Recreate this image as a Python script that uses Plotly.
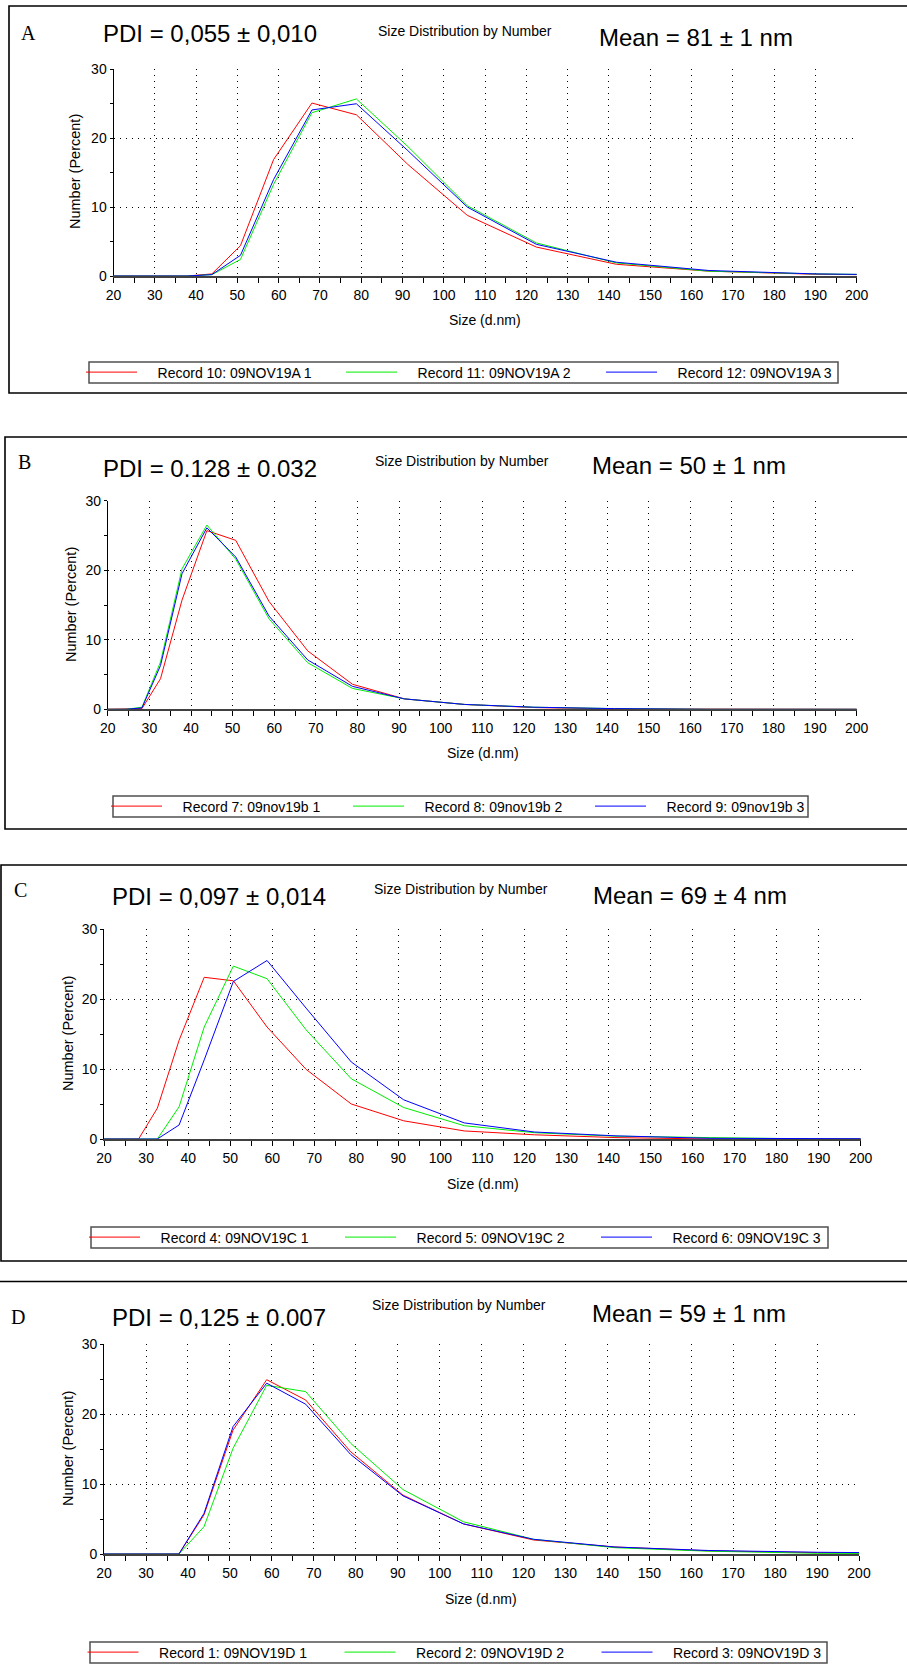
import plotly.graph_objects as go

W, H = 907, 1669

# ---------------- data ----------------
SIZES = [18.17, 21.04, 24.36, 28.21, 32.67, 37.84, 43.82, 50.75, 58.77,
         68.06, 78.82, 91.28, 105.7, 122.4, 141.8, 164.2, 190.1, 220.2]

A_REC10 = [0, 0, 0, 0, 0, 0, 0.3, 4.4, 16.9, 25.1, 23.4, 16.2, 8.8, 4.2, 1.7, 0.7, 0.25, 0.1]
A_REC11 = [0, 0, 0, 0, 0, 0, 0.2, 2.4, 13.3, 23.7, 25.7, 18.8, 10.2, 4.8, 1.9, 0.7, 0.3, 0.1]
A_REC12 = [0, 0, 0, 0, 0, 0, 0.2, 3.0, 14.0, 24.1, 25.0, 18.2, 10.0, 4.6, 2.0, 0.8, 0.3, 0.1]

B_REC7 = [0, 0, 0, 0.1, 4.4, 15.7, 25.7, 24.3, 15.5, 8.4, 3.6, 1.5, 0.7, 0.25, 0.05, 0, 0, 0]
B_REC8 = [0, 0, 0, 0.3, 6.8, 20.2, 26.5, 21.6, 13.0, 6.7, 3.0, 1.5, 0.7, 0.3, 0.1, 0, 0, 0]
B_REC9 = [0, 0, 0, 0.2, 6.3, 19.5, 26.1, 21.9, 13.4, 7.1, 3.3, 1.5, 0.7, 0.3, 0.1, 0, 0, 0]

C_REC4 = [0, 0, 0, 0, 4.4, 14.1, 23.1, 22.6, 16.0, 9.95, 5.0, 2.6, 1.15, 0.6, 0.2, 0, 0, 0]
C_REC5 = [0, 0, 0, 0, 0, 4.6, 16.0, 24.7, 22.9, 15.6, 8.6, 4.5, 1.9, 0.9, 0.4, 0.2, 0, 0]
C_REC6 = [0, 0, 0, 0, 0, 2.0, 11.3, 22.5, 25.5, 18.7, 11.0, 5.6, 2.3, 1.0, 0.45, 0.1, 0, 0]

D_REC1 = [0, 0, 0, 0, 0, 0, 5.6, 17.7, 24.9, 22.0, 14.6, 8.4, 4.3, 2.0, 1.0, 0.45, 0.2, 0.1]
D_REC2 = [0, 0, 0, 0, 0, 0, 3.9, 15.1, 24.1, 23.2, 15.8, 9.2, 4.6, 2.1, 0.9, 0.4, 0.1, 0.05]
D_REC3 = [0, 0, 0, 0, 0, 0, 5.8, 18.2, 24.4, 21.4, 14.2, 8.3, 4.3, 2.1, 1.0, 0.5, 0.25, 0.1]

NAMES_A = ["Record 10: 09NOV19A 1", "Record 11: 09NOV19A 2", "Record 12: 09NOV19A 3"]
NAMES_B = ["Record 7: 09nov19b 1", "Record 8: 09nov19b 2", "Record 9: 09nov19b 3"]
NAMES_C = ["Record 4: 09NOV19C 1", "Record 5: 09NOV19C 2", "Record 6: 09NOV19C 3"]
NAMES_D = ["Record 1: 09NOV19D 1", "Record 2: 09NOV19D 2", "Record 3: 09NOV19D 3"]

LETTERS = ["A", "B", "C", "D"]
PDI_TEXT = ["PDI = 0,055 ± 0,010", "PDI = 0.128 ± 0.032",
            "PDI = 0,097 ± 0,014", "PDI = 0,125 ± 0.007"]
MEAN_TEXT = ["Mean = 81 ± 1 nm", "Mean = 50 ± 1 nm",
             "Mean = 69 ± 4 nm", "Mean = 59 ± 1 nm"]
SUBTITLE = "Size Distribution by Number"
X_TITLE = "Size (d.nm)"
Y_TITLE = "Number (Percent)"
X_RANGE = [20, 200]
Y_RANGE = [0, 30]

SERIES = [
    (NAMES_A, [A_REC10, A_REC11, A_REC12]),
    (NAMES_B, [B_REC7, B_REC8, B_REC9]),
    (NAMES_C, [C_REC4, C_REC5, C_REC6]),
    (NAMES_D, [D_REC1, D_REC2, D_REC3]),
]
COLORS = ["#FF0000", "#00EE00", "#0000FF"]

# ---------------- layout geometry (pixels) ----------------
PANELS = [
    dict(x0=113.5, x1=856.7, y0=69.3, y1=276.0,
         frame=(9, 6, 930, 393), letter=(19, 33), pdi=(101, 34), sub=(376, 31), mean=(597, 37),
         ytitle=(75, 172), xtitle=(485, 320),
         leg_box=(89, 362, 838, 383), leg_start=91, leg_step=260),
    dict(x0=107.8, x1=856.6, y0=500.7, y1=709.3,
         frame=(5, 437, 930, 829), letter=(16, 462), pdi=(101, 469), sub=(373, 461), mean=(590, 466),
         ytitle=(71, 605), xtitle=(483, 753),
         leg_box=(113, 796, 808, 817), leg_start=116, leg_step=242),
    dict(x0=104.1, x1=860.6, y0=929.0, y1=1139.0,
         frame=(1, 865, 930, 1261), letter=(12, 890), pdi=(110, 896), sub=(372, 889), mean=(591, 895),
         ytitle=(68, 1034), xtitle=(483, 1184),
         leg_box=(91, 1227, 828, 1248), leg_start=94, leg_step=256),
    dict(x0=104.1, x1=859.0, y0=1344.0, y1=1554.0,
         frame=(-20, 1281.5, 930, 1700), letter=(9, 1317), pdi=(110, 1317), sub=(370, 1305), mean=(590, 1313),
         ytitle=(68, 1449), xtitle=(481, 1599),
         leg_box=(90, 1642, 827, 1663), leg_start=92.5, leg_step=257),
]

SANS = "Liberation Sans, Arial, sans-serif"
SERIF = "Liberation Serif, Times New Roman, serif"


def px(x):
    return x / W


def py(y):
    return 1 - y / H


fig = go.Figure()
annotations = []
shapes = []
layout_axes = {}
legends = {}

ITEM_W = 51
ITEM_GAP = 5
TEXT_GAP = ITEM_W + 2 * ITEM_GAP
PAD = "\u00a0\u00a0\u00a0\u00a0"

for i, (p, (names, vals)) in enumerate(zip(PANELS, SERIES)):
    n = "" if i == 0 else str(i + 1)
    xa, ya = "x" + n, "y" + n
    leg = "legend" + n
    for j in range(3):
        lw = p["leg_step"] - TEXT_GAP - ITEM_GAP if j < 2 else 175
        fig.add_trace(go.Scatter(
            x=SIZES, y=vals[j], mode="lines", name=PAD + names[j],
            line=dict(color=COLORS[j], width=1),
            xaxis=xa, yaxis=ya, legend=leg, legendwidth=lw,
            hoverinfo="x+y+name",
        ))
    axis_common = dict(
        showline=True, zeroline=False, showgrid=True, automargin=False,
        gridcolor="#000000", gridwidth=1, griddash="1px,5px",
        tickfont=dict(family=SANS, size=14, color="#000000"),
        ticks="outside", tickcolor="#000000", tickwidth=1,
        layer="below traces", fixedrange=True,
    )
    layout_axes["xaxis" + n] = dict(
        axis_common, domain=[px(p["x0"]), px(p["x1"])], range=X_RANGE,
        anchor=ya, tick0=20, dtick=10, ticklen=5,
        linecolor="#404040", linewidth=2,
        minor=dict(dtick=5, ticks="outside", ticklen=5, tickcolor="#000000", showgrid=False),
    )
    layout_axes["yaxis" + n] = dict(
        axis_common, domain=[py(p["y1"]), py(p["y0"])], range=Y_RANGE,
        anchor=xa, tick0=0, dtick=10, ticklen=3,
        linecolor="#000000", linewidth=1,
        minor=dict(dtick=5, ticks="outside", ticklen=3, tickcolor="#000000", showgrid=False),
    )
    bx0, by0, bx1, by1 = p["leg_box"]
    legends[leg] = dict(
        orientation="h", x=px(p["leg_start"] - 10), xanchor="left",
        y=py((by0 + by1) / 2), yanchor="middle",
        bgcolor="rgba(0,0,0,0)", borderwidth=0,
        itemwidth=ITEM_W, traceorder="normal",
        font=dict(family=SANS, size=14, color="#000000"),
    )
    # legend frame
    shapes.append(dict(type="rect", xref="paper", yref="paper",
                       x0=px(bx0), x1=px(bx1), y0=py(by1), y1=py(by0),
                       line=dict(color="#505050", width=1.5), fillcolor="rgba(0,0,0,0)",
                       layer="below"))
    # panel frame
    fx0, fy0, fx1, fy1 = p["frame"]
    shapes.append(dict(type="rect", xref="paper", yref="paper",
                       x0=px(fx0), x1=px(fx1), y0=py(fy1), y1=py(fy0),
                       line=dict(color="#000000", width=1.6), fillcolor="rgba(0,0,0,0)",
                       layer="below"))
    # texts
    annotations.append(dict(text=LETTERS[i], x=px(p["letter"][0]), y=py(p["letter"][1]),
                            xref="paper", yref="paper", xanchor="left", yanchor="middle",
                            showarrow=False, font=dict(family=SERIF, size=20, color="#000000")))
    annotations.append(dict(text=PDI_TEXT[i], x=px(p["pdi"][0]), y=py(p["pdi"][1]),
                            xref="paper", yref="paper", xanchor="left", yanchor="middle",
                            showarrow=False, font=dict(family=SANS, size=24, color="#000000")))
    annotations.append(dict(text=SUBTITLE, x=px(p["sub"][0]), y=py(p["sub"][1]),
                            xref="paper", yref="paper", xanchor="left", yanchor="middle",
                            showarrow=False, font=dict(family=SANS, size=14, color="#000000")))
    annotations.append(dict(text=MEAN_TEXT[i], x=px(p["mean"][0]), y=py(p["mean"][1]),
                            xref="paper", yref="paper", xanchor="left", yanchor="middle",
                            showarrow=False, font=dict(family=SANS, size=24, color="#000000")))
    annotations.append(dict(text=Y_TITLE, x=px(p["ytitle"][0]), y=py(p["ytitle"][1]),
                            xref="paper", yref="paper", xanchor="center", yanchor="middle",
                            textangle=-90, showarrow=False,
                            font=dict(family=SANS, size=14.5, color="#000000")))
    annotations.append(dict(text=X_TITLE, x=px(p["xtitle"][0]), y=py(p["xtitle"][1]),
                            xref="paper", yref="paper", xanchor="center", yanchor="middle",
                            showarrow=False, font=dict(family=SANS, size=14, color="#000000")))

fig.update_layout(
    template="none",
    width=W, height=H,
    margin=dict(l=0, r=0, t=0, b=0, pad=0, autoexpand=False),
    paper_bgcolor="#FFFFFF", plot_bgcolor="#FFFFFF",
    showlegend=True,
    annotations=annotations, shapes=shapes,
    font=dict(family=SANS, color="#000000"),
    **layout_axes, **legends,
)

fig.write_html("out.html", config=dict(displayModeBar=False))
